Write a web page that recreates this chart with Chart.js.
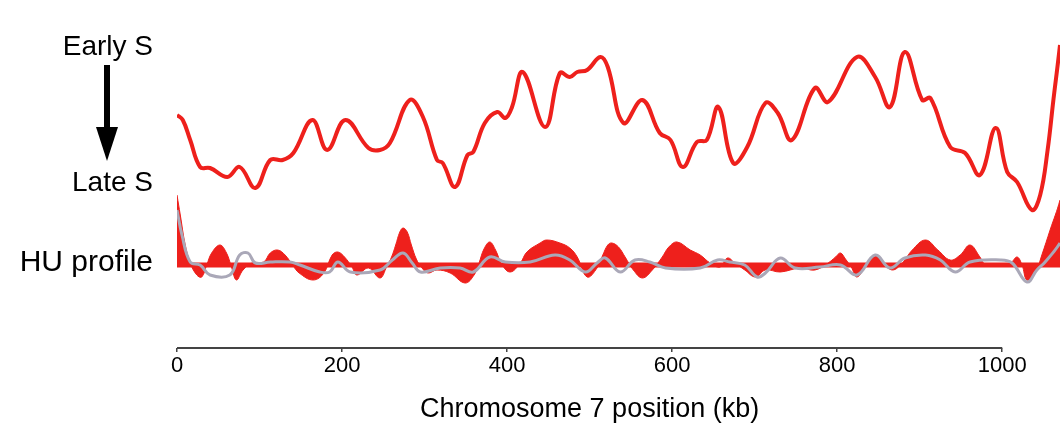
<!DOCTYPE html>
<html>
<head>
<meta charset="utf-8">
<title>Chromosome 7 replication profile</title>
<script src="https://cdn.jsdelivr.net/npm/chart.js@4.4.1/dist/chart.umd.min.js"></script>
<style>
  body { margin: 0; background: #fff; }
  canvas { display: block; }
</style>
</head>
<body>
<canvas id="chart" width="1060" height="426"></canvas>
<script>
// replication timing curve (kb, relative units above HU baseline)
const timingKb = [0, 7, 16, 28, 40, 61, 76, 95, 113, 128, 141, 164, 182, 204, 232, 246, 258, 282, 298, 315, 322, 337, 352, 359, 373, 388, 398, 406, 419, 446, 464, 476, 485, 497, 513, 522, 541, 564, 585, 598, 613, 630, 642, 656, 674, 691, 713, 728, 745, 773, 789, 824, 846, 864, 882, 903, 913, 937, 955, 973, 992, 1006, 1018, 1036, 1046, 1055, 1062, 1070, 1078];
const timingVal = [150, 145, 125, 98, 97, 88, 98, 77, 105, 105, 112, 145, 115, 145, 117, 115, 122, 165, 148, 105, 102, 78, 110, 113, 142, 153, 147, 158, 193, 138, 192, 188, 193, 195, 208, 198, 142, 165, 132, 125, 98, 123, 125, 158, 102, 118, 162, 152, 125, 177, 163, 208, 188, 158, 213, 165, 167, 118, 112, 90, 137, 93, 83, 55, 70, 115, 165, 220, 285];

// HU profile (red filled)
const huKb = [0, 4, 10, 16, 24, 30, 36, 42, 52, 60, 66, 72, 80, 91, 105, 113, 122, 131, 140, 148, 165, 178, 188, 195, 203, 212, 218, 232, 246, 254, 260, 265, 270, 274, 279, 284, 290, 296, 304, 315, 331, 349, 360, 366, 372, 379, 386, 394, 404, 416, 424, 440, 448, 464, 476, 485, 497, 509, 516, 522, 527, 535, 543, 553, 564, 576, 588, 596, 606, 622, 634, 646, 658, 667, 676, 688, 701, 713, 731, 755, 773, 789, 798, 804, 810, 817, 824, 835, 846, 856, 867, 879, 891, 907, 922, 937, 949, 961, 973, 979, 998, 1010, 1018, 1024, 1030, 1040, 1048, 1058, 1070, 1076];
const huVal = [70, 50, 20, 2, -10, -12, 0, 12, 20, 12, -2, -15, -5, 2, 3, 12, 15, 10, 0, -8, -15, -8, 10, 13, 8, -2, -10, -3, -13, -2, 8, 20, 33, 37, 33, 20, 6, -2, -8, -5, -8, -18, -10, 2, 16, 23, 15, 0, -7, 2, 13, 22, 25, 22, 17, 8, -12, -3, 10, 20, 22, 18, 8, -5, -13, -5, 8, 18, 23, 15, 10, 2, -2, 7, 2, -5, -12, -5, -7, -3, -5, 2, 8, 12, 6, -2, -12, 0, 10, 2, -5, 2, 15, 25, 15, 5, 10, 20, 8, 1, 0, 2, 8, 0, -15, -8, 10, 35, 65, 90];

// control profile (grey line)
const ctrlKb = [0, 6, 16, 28, 40, 64, 76, 86, 95, 113, 137, 149, 173, 185, 195, 210, 246, 261, 274, 285, 295, 319, 343, 359, 379, 398, 428, 458, 476, 495, 509, 519, 537, 555, 573, 592, 634, 655, 670, 688, 703, 713, 731, 749, 779, 804, 824, 846, 864, 882, 907, 925, 943, 961, 998, 1012, 1030, 1042, 1052, 1070, 1076];
const ctrlVal = [55, 30, 3, 0, -10, -10, 10, 12, 2, 3, 3, 0, -7, -7, 3, -7, -5, 5, 12, 2, -7, -3, -3, -7, 8, 3, 3, 10, 5, -7, 2, 7, -7, 5, 3, -3, -3, 5, 3, 0, -12, -8, 7, -3, -2, 0, -10, 10, -3, 7, 10, 5, -7, 3, 5, 2, -17, -5, 3, 22, 35];

const xTicks = [0, 200, 400, 600, 800, 1000];
const rowLabels = ['Early S', 'Late S', 'HU profile'];
const rowValues = [218, 82, 2];

const RED = 'rgb(238, 32, 28)';
const FONT = '"Liberation Sans", Arial, Helvetica, sans-serif';

const pts = (xs, ys) => xs.map((x, i) => ({ x: x, y: ys[i] }));

const annotations = {
  id: 'annotations',
  afterDraw(chart) {
    const ctx = chart.ctx;
    const x = chart.scales.x;
    const y = chart.scales.y;
    const axisY = chart.chartArea.bottom;
    const x0 = x.getPixelForValue(0);
    const x1 = x.getPixelForValue(1000);
    ctx.save();
    // axis line only spans 0-1000 kb
    ctx.strokeStyle = '#444';
    ctx.lineWidth = 2;
    ctx.beginPath();
    ctx.moveTo(x0, axisY);
    ctx.lineTo(x1, axisY);
    ctx.stroke();
    // axis title
    ctx.fillStyle = '#000';
    ctx.font = '27px ' + FONT;
    ctx.textAlign = 'center';
    ctx.textBaseline = 'middle';
    ctx.fillText('Chromosome 7 position (kb)', (x0 + x1) / 2, 410);
    // arrow from early to late
    const ax = y.right - 70;
    const top = y.getPixelForValue(rowValues[0]) + 18;
    const bot = y.getPixelForValue(rowValues[1]) - 22;
    ctx.fillStyle = '#000';
    ctx.fillRect(ax - 3, top, 6, bot - top - 30);
    ctx.beginPath();
    ctx.moveTo(ax - 11, bot - 34);
    ctx.lineTo(ax + 11, bot - 34);
    ctx.lineTo(ax, bot);
    ctx.closePath();
    ctx.fill();
    ctx.restore();
  }
};

new Chart(document.getElementById('chart'), {
  type: 'line',
  data: {
    datasets: [
      {
        data: pts(ctrlKb, ctrlVal),
        borderColor: 'rgb(170, 168, 184)',
        borderWidth: 3,
        pointRadius: 0,
        tension: 0.4,
        fill: false,
        order: 0
      },
      {
        data: pts(timingKb, timingVal),
        borderColor: RED,
        borderWidth: 4,
        pointRadius: 0,
        tension: 0.4,
        fill: false,
        order: 1
      },
      {
        data: [{ x: 0, y: 0 }, { x: 1070, y: 0 }],
        borderColor: RED,
        borderWidth: 5,
        pointRadius: 0,
        fill: false,
        order: 2
      },
      {
        data: pts(huKb, huVal),
        borderColor: RED,
        borderWidth: 1,
        backgroundColor: RED,
        pointRadius: 0,
        tension: 0.4,
        fill: 'origin',
        order: 3
      }
    ]
  },
  options: {
    responsive: false,
    animation: false,
    devicePixelRatio: 1,
    layout: { padding: 0 },
    plugins: {
      legend: { display: false },
      tooltip: { enabled: false }
    },
    scales: {
      x: {
        type: 'linear',
        min: 0,
        max: 1070,
        afterBuildTicks: s => { s.ticks = xTicks.map(v => ({ value: v })); },
        afterFit: s => { s.height = 78; s.paddingLeft = 0; s.paddingRight = 0; },
        border: { display: false },
        grid: { drawOnChartArea: false, drawTicks: true, tickLength: 4, color: '#444', lineWidth: 1.5 },
        ticks: {
          color: '#000',
          padding: 1,
          maxRotation: 0,
          callback: v => String(v),
          font: { family: FONT, size: 22 }
        }
      },
      y: {
        type: 'linear',
        min: -83,
        max: 265,
        afterBuildTicks: s => { s.ticks = rowValues.map(v => ({ value: v })); },
        afterFit: s => { s.width = 177; s.paddingTop = 0; s.paddingBottom = 0; },
        border: { display: false },
        grid: { display: false, drawTicks: false },
        ticks: {
          color: '#000',
          padding: 24,
          autoSkip: false,
          callback: (v, i) => rowLabels[i],
          font: c => ({ family: FONT, size: c.index === 2 ? 30 : 28 })
        }
      }
    }
  },
  plugins: [annotations]
});
</script>
</body>
</html>
